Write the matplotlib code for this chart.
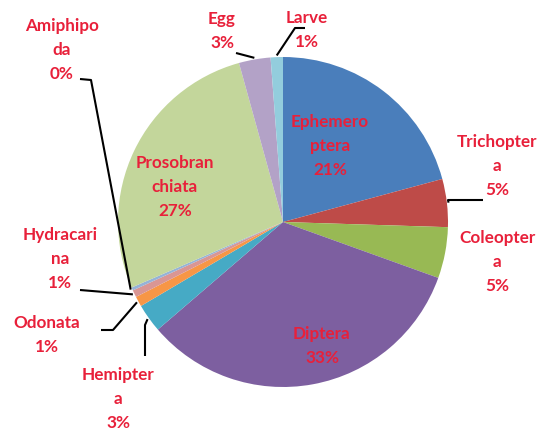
import matplotlib
matplotlib.use("Agg")
import matplotlib.pyplot as plt
import numpy as np

categories = ["Ephemeroptera", "Trichoptera", "Coleoptera", "Diptera", "Hemiptera",
              "Odonata", "Hydracarina", "Amiphipoda", "Prosobranchiata", "Egg", "Larve"]
# label text as shown (Excel wrapped the long names)
label_names = ["Ephemero\nptera", "Trichopter\na", "Coleopter\na", "Diptera", "Hemipter\na",
               "Odonata", "Hydracari\nna", "Amiphipo\nda", "Prosobran\nchiata", "Egg", "Larve"]
values = [20.8, 4.7, 5.0, 33.2, 2.8, 1.0, 0.7, 0.3, 27.2, 3.1, 1.2]
colors = ["#4A7EBB", "#BE4B48", "#98B954", "#7D5FA0", "#46AAC5", "#F79646",
          "#D99694", "#95B3D7", "#C3D69B", "#B3A2C7", "#93CDDD"]

W, H = 549, 434
CX, CY, R = 283, 222, 165


def px(x, y):
    # pixel position -> data coords (pie radius = 1)
    return (x - CX) / R, (CY - y) / R


fig = plt.figure(figsize=(W / 100, H / 100), dpi=100)
ax = fig.add_axes([0, 0, 1, 1])
ax.axis("off")

wedges, _ = ax.pie(values, colors=colors, startangle=90, counterclock=False,
                   radius=1, center=(0, 0), wedgeprops=dict(linewidth=0))
ax.set_aspect("equal")
ax.set_xlim(-CX / R, (W - CX) / R)
ax.set_ylim(-(H - CY) / R, CY / R)

text_kw = dict(color="#E8203A", fontsize=12.3, fontweight="bold", family="Lato",
               ha="center", va="center", linespacing=1.6)

# label centres (pixels) and leader elbows (pixels, from label side)
label_pos = {
    "Ephemeroptera": (330, 146),
    "Trichoptera": (497, 166),
    "Coleoptera": (497, 262),
    "Diptera": (322, 346),
    "Hemiptera": (118, 399),
    "Odonata": (47, 335),
    "Hydracarina": (60, 259),
    "Amiphipoda": (62, 50),
    "Prosobranchiata": (175, 187),
    "Egg": (222, 31),
    "Larve": (307, 30),
}
leaders = {
    "Trichoptera": [(483, 200), (448, 200)],
    "Hemiptera": [(145, 356), (145, 325)],
    "Odonata": [(101, 330), (113, 330)],
    "Hydracarina": [(80, 290)],
    "Amiphipoda": [(80, 79), (91, 80)],
    "Egg": [(236, 53)],
    "Larve": [(305, 28), (295, 28)],
}

for name, lab, v, w in zip(categories, label_names, values, wedges):
    x, y = px(*label_pos[name])
    ax.text(x, y, f"{lab}\n{v:.0f}%", **text_kw)
    if name in leaders:
        mid = np.deg2rad((w.theta1 + w.theta2) / 2)
        pts = [px(*p) for p in leaders[name]]
        pts.append((1.01 * np.cos(mid), 1.01 * np.sin(mid)))
        xs, ys = zip(*pts)
        ax.plot(xs, ys, color="black", lw=1.5, solid_capstyle="butt")

fig.savefig("out.png", dpi=100)
